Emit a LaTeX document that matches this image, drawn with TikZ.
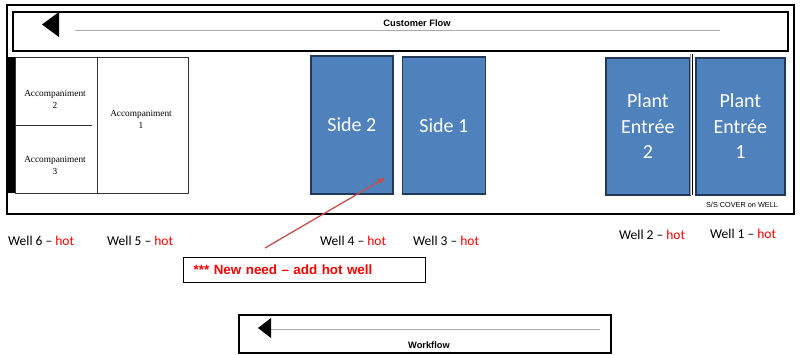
\documentclass[tikz,border=0pt]{standalone}
\usepackage{fontspec}
\setmainfont{Liberation Serif}
\newfontfamily\calibri{Carlito}
\newfontfamily\arial{Liberation Sans}
\usetikzlibrary{arrows.meta}

\definecolor{blueface}{RGB}{79,129,189}
\definecolor{blueedge}{RGB}{34,56,88}
\definecolor{arrowred}{RGB}{192,80,77}
\definecolor{hotred}{RGB}{255,0,0}
\definecolor{flowgray}{RGB}{170,170,170}

\begin{document}
\begin{tikzpicture}[x=1pt,y=-1pt,
  frame/.style={draw=black, line width=2pt, inner sep=0pt, anchor=north west},
  wellunit/.style={draw=blueedge, fill=blueface, line width=1.7pt, text=white,
    font=\calibri\fontsize{20}{25.5}\selectfont, align=center, inner sep=0pt,
    anchor=north west},
  accbox/.style={draw=black!80, line width=0.9pt, inner sep=0pt, anchor=north west},
  acctext/.style={font=\fontsize{9.3}{12}\selectfont, align=center, inner sep=0pt},
  welllabel/.style={font=\calibri\fontsize{13.5}{16}\selectfont, anchor=base west, inner sep=0pt},
  flowtitle/.style={font=\arial\bfseries\fontsize{9.3}{11}\selectfont, inner sep=0pt},
  flowline/.style={draw=flowgray, line width=0.8pt},
  notebox/.style={draw=black, line width=1.4pt, anchor=north west, minimum width=242pt,
    minimum height=25pt, text width=222pt, inner xsep=10pt, align=left,
    text=hotred, font=\arial\bfseries\fontsize{13.4}{16}\selectfont}
]
\useasboundingbox (0,0) rectangle (801,354);

% counter outline and customer flow strip
\node[frame, minimum width=787pt, minimum height=209pt] (counter) at (6,4) {};
\node[frame, minimum width=775pt, minimum height=39pt] (custflow) at (12,11) {};
\fill (59,12) -- (59,37) -- (42,24.5) -- cycle;
\draw[flowline] (75,30) -- (720,30);
\node[flowtitle] (custtitle) at (417,23) {Customer Flow};

% accompaniment section
\fill (8,57) rectangle (14.5,193);
\node[accbox, minimum width=82pt, minimum height=136pt] (accleft) at (15,57) {};
\node[accbox, minimum width=91pt, minimum height=136pt] (acc1box) at (97,57) {};
\draw[black!80, line width=0.9pt] (15,125) -- (92,125);
\node[acctext] (acc2) at (55,99) {Accompaniment\\2};
\node[acctext] (acc3) at (55,165) {Accompaniment\\3};
\node[acctext] (acc1) at (141,119) {Accompaniment\\1};

% hot wells
\node[wellunit, minimum width=82pt, minimum height=138pt] (side2) at (310,55) {Side 2};
\node[wellunit, minimum width=83pt, minimum height=137pt] (side1) at (401.5,56) {Side 1};
\node[wellunit, minimum width=84pt, minimum height=137pt] (plant2) at (605,57) {Plant\\Entrée\\2};
\node[wellunit, minimum width=89pt, minimum height=137pt] (plant1) at (695,57) {Plant\\Entrée\\1};
\draw[flowgray, line width=0.8pt] (690.3,54) -- (690.3,195);
\draw[black, line width=0.9pt] (692.5,54) -- (692.5,195);
\node[font=\arial\fontsize{7.3}{9}\selectfont, inner sep=0pt] (cover) at (742,204.5) {S/S COVER on WELL};

% well labels
\node[welllabel] (w6) at (8,245) {Well 6 – \textcolor{hotred}{hot}};
\node[welllabel] (w5) at (107,245) {Well 5 – \textcolor{hotred}{hot}};
\node[welllabel] (w4) at (320,245) {Well 4 – \textcolor{hotred}{hot}};
\node[welllabel] (w3) at (413,245) {Well 3 – \textcolor{hotred}{hot}};
\node[welllabel] (w2) at (619,239.5) {Well 2 – \textcolor{hotred}{hot}};
\node[welllabel] (w1) at (710,238.5) {Well 1 – \textcolor{hotred}{hot}};

% new requirement callout
\coordinate (needtail) at (265,248);
\coordinate (needtip) at (385,178);
\draw[arrowred, line width=1.3pt, -{Triangle[length=7pt,width=6pt]}] (needtail) -- (needtip);
\node[notebox] (note) at (183,257) {*** New need – add hot well};

% workflow strip
\node[frame, line width=1.6pt, minimum width=372pt, minimum height=38pt] (workflow) at (238,314) {};
\fill (271,318) -- (271,338) -- (258,328) -- cycle;
\draw[flowline] (271,329) -- (600,329);
\node[flowtitle] (worktitle) at (429,345) {Workflow};
\end{tikzpicture}
\end{document}
